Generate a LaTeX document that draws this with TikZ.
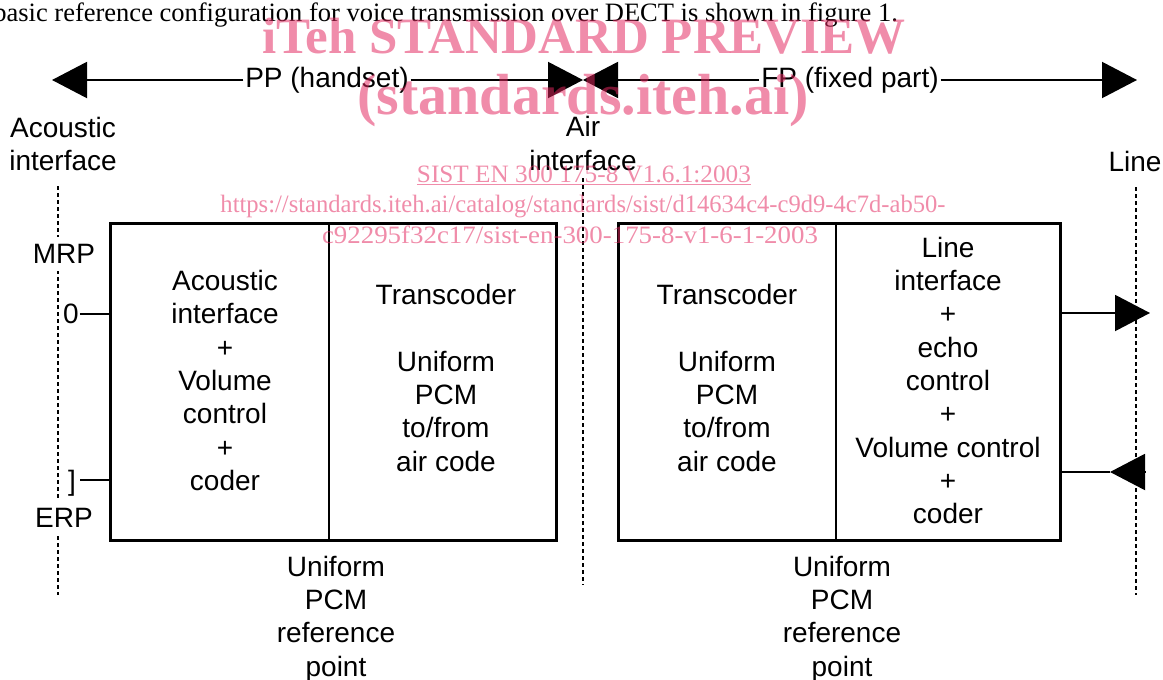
\documentclass[tikz,border=0pt]{standalone}
\usepackage{fontspec}
\setmainfont{Liberation Sans}
\newfontfamily\seriffam{Liberation Serif}
\usetikzlibrary{arrows.meta,fit}
\definecolor{wmc}{RGB}{226,38,94}
\tikzset{
  lbl/.style={font=\fontsize{28}{33.3}\selectfont, align=center, inner sep=0pt, outer sep=0pt},
  sect/.style={draw, line width=2.5pt, minimum height=317pt, inner sep=0pt, outer sep=0pt},
  outerbox/.style={draw, line width=3pt, inner sep=0pt, outer sep=0pt},
  dashv/.style={line width=2.4pt, dash pattern=on 4pt off 3pt},
  conn/.style={line width=2pt},
  tipped/.style={-{Triangle[length=35pt,width=36pt]}},
  wm/.style={text=wmc, text opacity=0.53, inner sep=0pt, anchor=base},
}
\begin{document}
\begin{tikzpicture}[x=1pt,y=-1pt]
\useasboundingbox (0,0) rectangle (1163,680);

% caption
\node[font=\seriffam\fontsize{26.5}{30}\selectfont, anchor=base east, inner sep=0pt] (cap) at (898,21)
  {basic reference configuration for voice transmission over DECT is shown in figure 1.};

% top arrows
\coordinate (Lt) at (52,80);
\coordinate (Mt) at (583,80);
\coordinate (Rt) at (1137,80);
\node[lbl, inner xsep=2pt] (PP) at (327,80) {PP (handset)};
\node[lbl, inner xsep=2pt] (FP) at (850,80) {FP (fixed part)};
\draw[conn,tipped] (PP.west) -- (Lt);
\draw[conn,tipped] (PP.east) -- (Mt);
\draw[conn,tipped] (FP.west) -- (Mt);
\draw[conn,tipped] (FP.east) -- (Rt);

% interface labels and dashed lines
\node[lbl] (ac) at (63,144) {Acoustic\\interface};
\node[lbl] (air) at (583,143.5) {Air\\interface};
\node[lbl] (line) at (1135,161) {Line};
\coordinate (aTop) at (58,186);
\coordinate (aBot) at (58,595);
\coordinate (bTop) at (583,178);
\coordinate (bBot) at (583,585);
\coordinate (cTop) at (1136,187);
\coordinate (cBot) at (1136,595);
\draw[dashv] (aTop) -- (aBot);
\draw[dashv] (bTop) -- (bBot);
\draw[dashv] (cTop) -- (cBot);
\node[lbl, fill=white, inner sep=7pt] (mrp) at (64,254) {MRP};
\node[lbl, fill=white, inner sep=7pt] (erp) at (64,518) {ERP};

% boxes
\node[sect, minimum width=219pt] (s1) at (219.5,381.5) {};
\node[sect, minimum width=227pt] (s2) at (442.5,381.5) {};
\node[sect, minimum width=218pt] (s3) at (727,381.5) {};
\node[sect, minimum width=224pt] (s4) at (948,381.5) {};
\node[outerbox, fit=(s1)(s2)] (ppbox) {};
\node[outerbox, fit=(s3)(s4)] (fpbox) {};
\node[lbl] (t1) at (225,380.5) {Acoustic\\interface\\+\\Volume\\control\\+\\coder};
\node[lbl] (t2) at (446,378) {Transcoder\\[33.3pt]Uniform\\PCM\\to/from\\air code};
\node[lbl] (t3) at (727,378) {Transcoder\\[33.3pt]Uniform\\PCM\\to/from\\air code};
\node[lbl] (t4) at (948,380.5) {Line\\interface\\+\\echo\\control\\+\\Volume control\\+\\coder};

% left connectors
\node[lbl] (zero) at (71,314) {0};
\node[lbl] (brk) at (72,483) {]};
\draw[conn] (zero.east) ++(1,0) coordinate (z1) -- (z1 -| s1.west);
\coordinate (b1) at (80,480);
\draw[conn] (b1) -- (b1 -| s1.west);

% right arrows
\coordinate (o1) at (1150,313);
\draw[conn,tipped] (o1 -| s4.east) -- (o1);
\coordinate (i1) at (1110,472);
\coordinate (i1b) at (1145,472);
\draw[conn,tipped] (i1b) -- (i1);
\draw[conn] (i1) -- (i1 -| s4.east);

% bottom labels
\node[lbl] (u1) at (336,619) {Uniform\\PCM\\reference\\point};
\node[lbl] (u2) at (842,619) {Uniform\\PCM\\reference\\point};

% watermark
\node[wm, font=\seriffam\bfseries\fontsize{51}{55}\selectfont] (w1) at (584,53) {iTeh STANDARD PREVIEW};
\node[wm, font=\seriffam\bfseries\fontsize{58}{60}\selectfont] (w2) at (583,114) {(standards.iteh.ai)};
\node[wm, font=\seriffam\fontsize{25}{30}\selectfont] (w3) at (584,182)
  {\resizebox{334pt}{\height}{\underline{SIST EN 300 175-8 V1.6.1:2003}}};
\node[wm, font=\seriffam\fontsize{25}{30}\selectfont] (w4) at (583,212)
  {\resizebox{725pt}{\height}{https://standards.iteh.ai/catalog/standards/sist/d14634c4-c9d9-4c7d-ab50-}};
\node[wm, font=\seriffam\fontsize{25}{30}\selectfont] (w5) at (570,243)
  {\resizebox{496pt}{\height}{c92295f32c17/sist-en-300-175-8-v1-6-1-2003}};
\end{tikzpicture}
\end{document}
